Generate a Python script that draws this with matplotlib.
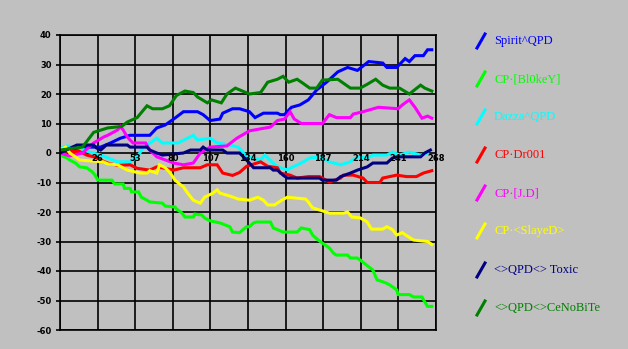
import numpy as np
import matplotlib.pyplot as plt
from matplotlib.lines import Line2D

# game number / running score
spirit_g = [0, 21, 29, 36, 43, 50, 64, 69, 75, 81, 88, 98, 102, 107, 114, 116, 123, 128, 135, 139, 145, 155, 157, 160, 165, 171, 177, 183, 190, 198, 205, 212, 220, 230, 233, 240, 246, 249, 253, 259, 262, 265]
spirit_v = [1, 2, 2, 3.4, 5, 6, 6, 8.5, 9.5, 11.5, 14, 14, 13, 11, 11.5, 13.5, 15, 15, 14, 12, 13.5, 13.5, 13, 13, 15.5, 16.3, 18, 21.4, 24, 27.5, 29, 28, 31, 30.5, 29, 29, 32, 31, 33, 33, 35, 35]

blokey_g = [0, 5, 7, 11, 14, 19, 23, 25, 27, 37, 39, 45, 46, 50, 51, 56, 58, 62, 64, 73, 75, 82, 83, 87, 89, 95, 96, 101, 103, 107, 114, 121, 123, 128, 133, 135, 138, 140, 150, 152, 159, 169, 172, 178, 180, 184, 189, 192, 195, 197, 205, 207, 212, 214, 223, 226, 232, 235, 240, 241, 249, 252, 258, 260, 262, 265]
blokey_v = [-0.7, -1.7, -2.4, -3.4, -4.7, -5, -6.4, -7.5, -9.2, -9.2, -10.5, -10.5, -12, -12, -13.2, -13.2, -15, -16, -16.6, -17, -18, -18.3, -19, -20.4, -21.7, -21.7, -20.7, -21, -22, -23, -23.7, -25, -26.8, -27, -25, -25, -23.7, -23.4, -23.4, -25.4, -26.8, -26.8, -25.4, -26, -27.8, -29.5, -31.2, -32.2, -34, -34.6, -34.6, -35.6, -35.6, -36.3, -39.7, -43, -44, -44.7, -46.4, -48, -48, -48.8, -48.8, -50.5, -52, -52]

dazza_g = [0, 5, 14, 21, 29, 41, 50, 52, 56, 59, 69, 73, 84, 91, 95, 98, 107, 112, 121, 127, 132, 135, 143, 146, 151, 155, 162, 166, 172, 178, 185, 192, 200, 207, 212, 219, 223, 233, 237, 242, 249, 257, 262]
dazza_v = [1.5, 2.4, 1.7, 0.3, -0.7, -3, -3, -2.4, -0.7, 1.7, 5, 3.4, 3.4, 5, 6, 4.4, 5, 3.4, 2.7, 2, -0.7, -1.3, -2.4, -0.7, -3, -4.7, -5.7, -4.7, -3.4, -1.7, -1.3, -3, -4, -3, -1.3, -1.7, -0.7, -0.7, 0.3, -0.7, 0.3, -0.7, 0]

drool_g = [0, 7, 14, 19, 24, 29, 34, 41, 50, 55, 64, 69, 73, 81, 88, 100, 105, 112, 116, 123, 128, 133, 143, 148, 155, 157, 164, 169, 177, 185, 192, 200, 202, 209, 216, 219, 228, 230, 240, 247, 254, 259, 265]
drool_v = [1, 0.5, 0.5, -0.7, -1.3, -2.4, -3.4, -4.2, -4, -5.2, -5.8, -4.7, -5, -5.8, -5, -5, -4, -4, -6.8, -7.6, -6.6, -4.5, -3, -4.5, -5, -6.8, -7.5, -8.5, -8, -8, -9.8, -8.5, -7.5, -7.5, -8.5, -10, -10, -8.5, -7.5, -8, -8, -6.8, -6]

jd_g = [0, 7, 16, 24, 31, 34, 41, 43, 45, 48, 52, 61, 64, 69, 81, 88, 95, 100, 107, 119, 126, 135, 150, 155, 160, 164, 167, 172, 187, 192, 197, 207, 209, 216, 227, 241, 244, 249, 253, 258, 262, 265]
jd_v = [0, -1, 0, 3.4, 5.4, 6, 7.8, 9, 7.8, 5.4, 3.4, 3.4, 1, -1.3, -3.4, -4, -3.4, 0, 2, 2.4, 5, 7.5, 8.8, 11, 11.5, 14, 11.5, 10, 10, 13, 12, 12, 13.2, 14, 15.5, 15, 16.3, 18, 15.5, 11.8, 12.5, 11.8]

slayed_g = [0, 4, 7, 11, 14, 31, 34, 41, 48, 57, 62, 64, 69, 71, 75, 78, 82, 86, 88, 91, 95, 100, 103, 109, 112, 114, 121, 127, 135, 141, 145, 148, 153, 158, 162, 175, 177, 180, 187, 192, 202, 205, 208, 214, 219, 222, 230, 233, 237, 240, 244, 247, 252, 262, 265]
slayed_v = [1, 2, 0, -1.3, -2.4, -3, -3.7, -4, -5.8, -6.8, -6.8, -6, -6.8, -4, -5, -6.4, -9.2, -10.8, -11.5, -13.6, -16, -17, -15, -13.6, -12.5, -13.6, -14.6, -15.6, -16, -15, -16, -17.6, -17.6, -16, -15, -15.6, -16.6, -18.6, -19.6, -20.4, -20.4, -20, -21.7, -22, -23.4, -25.8, -25.8, -25, -26, -27.8, -27, -28, -29.5, -30, -31]

toxic_g = [0, 12, 24, 26, 29, 33, 48, 50, 62, 64, 69, 73, 88, 93, 100, 102, 105, 116, 119, 128, 133, 138, 150, 152, 155, 159, 162, 185, 187, 197, 200, 207, 212, 219, 223, 233, 237, 240, 257, 260, 264]
toxic_v = [0, 2.7, 2.7, 1.7, 1, 2.7, 2.7, 2, 2, 1, 0, -0.7, 0, 1, 1, 2, 1, 1, 0, 0, -2.4, -5, -5, -5.8, -5.8, -7.5, -8.5, -8.5, -9.2, -9.2, -8, -6.8, -5.8, -4.7, -3.4, -3.4, -1.7, -1.3, -1.3, 0, 1]

cenobite_g = [0, 16, 24, 34, 44, 48, 55, 62, 66, 73, 78, 83, 89, 95, 98, 105, 108, 115, 119, 125, 130, 135, 143, 148, 155, 159, 163, 169, 173, 178, 183, 187, 198, 207, 214, 219, 225, 230, 235, 242, 249, 257, 260, 265]
cenobite_v = [1, 2, 7, 8.5, 9, 10.5, 12, 16, 15, 15, 16, 19.5, 21, 20.5, 19, 17, 18, 17, 20, 22, 21, 20, 20.5, 24, 25, 26, 24, 25, 23.7, 22, 22, 24.7, 25, 22, 22, 23.3, 25, 23, 22, 22, 20, 23, 22, 21]

names = ['Spirit^QPD', 'CP·[Bl0keY]', 'Dazza^QPD', 'CP·Dr001', 'CP·[J.D]', 'CP·<SlayeD>', '<>QPD<> Toxic', '<>QPD<>CeNoBiTe']
colors = ['#0000FF', '#00FF00', '#00FFFF', '#FF0000', '#FF00FF', '#FFFF00', '#000080', '#008000']
series = [(spirit_g, spirit_v), (blokey_g, blokey_v), (dazza_g, dazza_v), (drool_g, drool_v),
          (jd_g, jd_v), (slayed_g, slayed_v), (toxic_g, toxic_v), (cenobite_g, cenobite_v)]

x_ticks = np.linspace(0, 268, 11)
x_labels = ['', '26', '53', '80', '107', '134', '160', '187', '214', '241', '268']

W, H = 628, 349
bg = '#C0C0C0'
fig = plt.figure(figsize=(W / 100, H / 100), dpi=100, facecolor=bg)
ax = fig.add_axes([60 / W, 1 - 330 / H, 376 / W, 295 / H], facecolor=bg)

for (g, v), c in zip(series, colors):
    ax.plot(g, v, color=c, lw=2.2, solid_joinstyle='miter')

ax.set_xlim(0, 268)
ax.set_ylim(-60, 40)
ax.set_xticks(x_ticks)
ax.set_xticklabels([])
ax.set_yticks(np.arange(-60, 41, 10))
ax.set_yticklabels([str(t) for t in range(-60, 41, 10)], fontsize=6, fontweight='bold')
ax.tick_params(axis='x', length=0)
ax.tick_params(axis='y', length=3, width=1.2, pad=3, colors='black')
ax.grid(True, color='black', lw=1.2)
ax.set_axisbelow(True)
for s in ax.spines.values():
    s.set_color('black')
    s.set_linewidth(1.2)

# x labels sit just under the zero line
for t, lab in zip(x_ticks, x_labels):
    ax.text(t, -0.4, lab, ha='center', va='top', fontsize=6, fontweight='bold', zorder=5)

# legend on the right: slanted swatch + serif text
ys = [41, 79, 117, 155, 193, 231, 270, 308]
for y, name, c in zip(ys, names, colors):
    fig.add_artist(Line2D([477 / W, 485 / W], [1 - (y + 7) / H, 1 - (y - 7) / H],
                          color=c, lw=2.2, transform=fig.transFigure))
    fig.text(494 / W, 1 - y / H, name, color=c, fontsize=9, family='Liberation Serif',
             ha='left', va='center')

fig.savefig('out.png', dpi=100, facecolor=bg)
